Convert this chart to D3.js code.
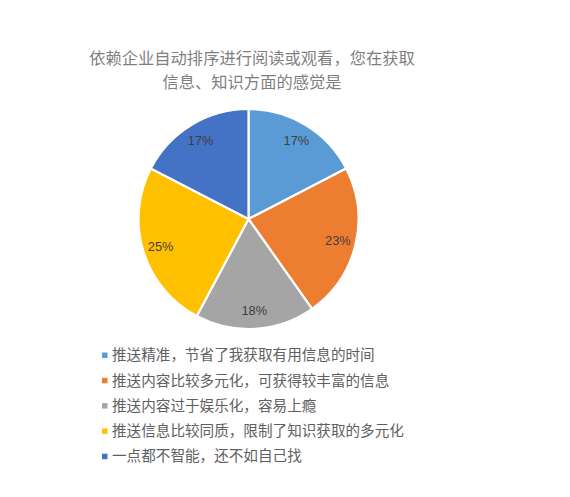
<!DOCTYPE html>
<html><head><meta charset="utf-8">
<script src="https://cdn.jsdelivr.net/npm/d3@7/dist/d3.min.js"></script>
<style>body{margin:0;background:#fff}</style>
</head><body>
<svg id="c" width="570" height="497"></svg>
<script>
const titleLines = ["依赖企业自动排序进行阅读或观看，您在获取", "信息、知识方面的感觉是"];
const categories = [
  "推送精准，节省了我获取有用信息的时间",
  "推送内容比较多元化，可获得较丰富的信息",
  "推送内容过于娱乐化，容易上瘾",
  "推送信息比较同质，限制了知识获取的多元化",
  "一点都不智能，还不如自己找"
];
const values = [17.4, 22.8, 17.6, 24.8, 17.4];
const colors = ["#5B9BD5", "#ED7D31", "#A5A5A5", "#FFC000", "#4472C4"];

const svg = d3.select("#c");
const font = "'Noto Sans CJK SC', sans-serif";

svg.append("g").selectAll("text").data(titleLines).join("text")
  .attr("x", 252).attr("y", (d, i) => 64 + i * 24)
  .attr("text-anchor", "middle")
  .attr("font-family", font).attr("font-size", 16.3)
  .attr("fill", "#7f7f7f")
  .text(d => d);

const cx = 248.5, cy = 219, r = 110;
const total = d3.sum(values);
const pie = d3.pie().sort(null).value(d => d);
const arcs = pie(values);
const arc = d3.arc().innerRadius(0).outerRadius(r);
const labelArc = d3.arc().innerRadius(92).outerRadius(92);

const g = svg.append("g").attr("transform", `translate(${cx},${cy})`);
g.selectAll("path").data(arcs).join("path")
  .attr("d", arc)
  .attr("fill", (d, i) => colors[i])
  .attr("stroke", "#fff").attr("stroke-width", 2.2);

g.selectAll("text").data(arcs).join("text")
  .attr("transform", d => `translate(${labelArc.centroid(d)})`)
  .attr("text-anchor", "middle").attr("dy", "0.35em")
  .attr("font-family", "'Liberation Sans', sans-serif").attr("font-size", 12.8)
  .attr("fill", "#404040")
  .text(d => Math.round(d.data / total * 100) + "%");

const leg = svg.append("g");
const rows = leg.selectAll("g").data(categories).join("g")
  .attr("transform", (d, i) => `translate(102, ${355 + i * 25.3})`);
rows.append("rect").attr("x", 0).attr("y", -2.5).attr("width", 5.5).attr("height", 5.5)
  .attr("fill", (d, i) => colors[i]);
rows.append("text").attr("x", 10).attr("y", 0).attr("dy", "0.36em")
  .attr("font-family", font).attr("font-size", 14.6)
  .attr("fill", "#606060")
  .text(d => d);
</script>
</body></html>
